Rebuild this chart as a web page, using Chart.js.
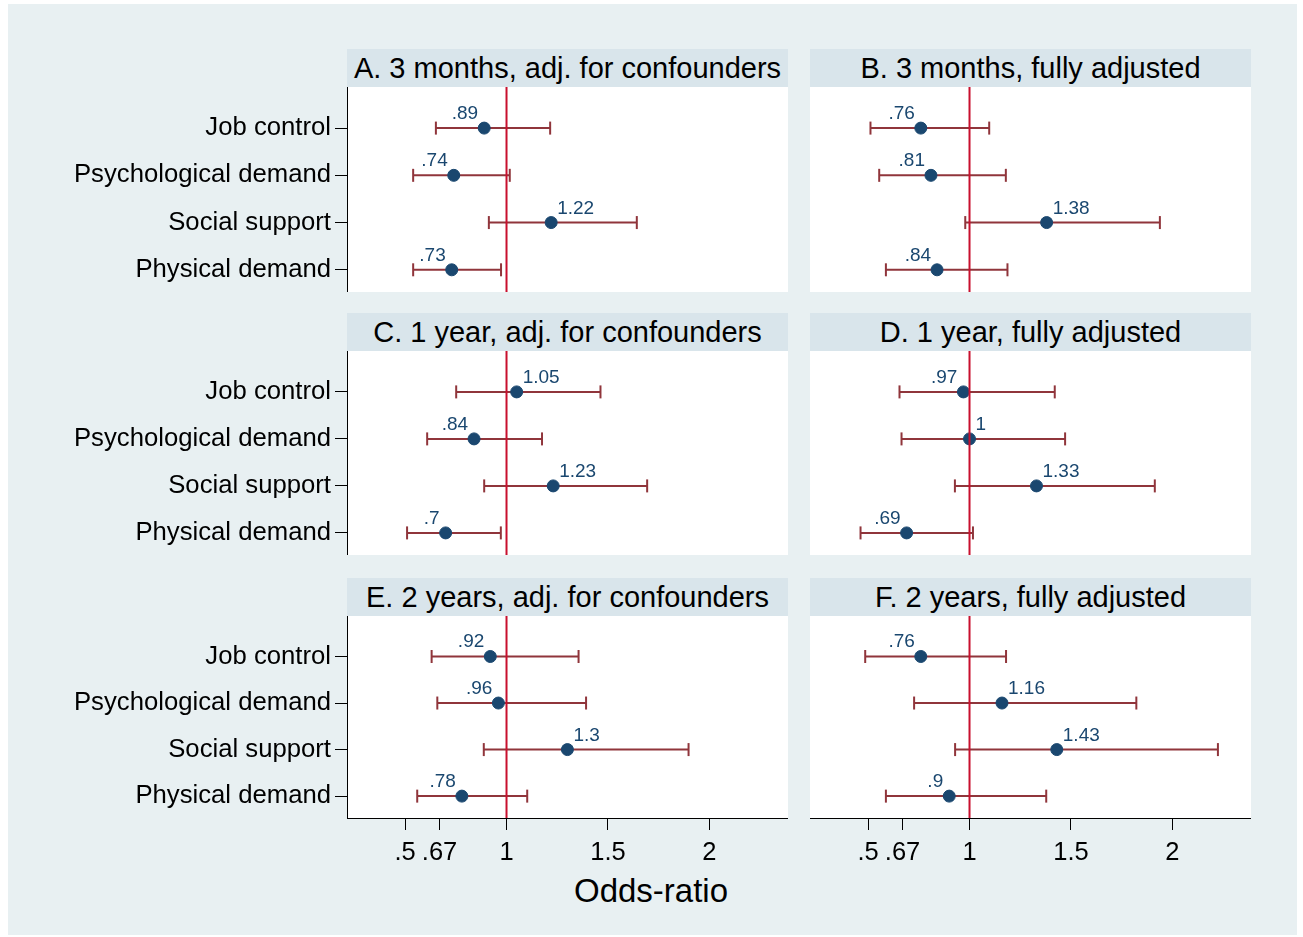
<!DOCTYPE html>
<html>
<head>
<meta charset="utf-8">
<script src="https://cdn.jsdelivr.net/npm/chart.js@4.4.0/dist/chart.umd.min.js"></script>
<style>
body{margin:0;background:#fff;width:1303px;height:937px;position:relative;overflow:hidden;font-family:"Liberation Sans",Arial,sans-serif;}
#bg{position:absolute;left:8px;top:4px;width:1289px;height:931px;background:#e8f0f2;}
.band{position:absolute;height:38px;line-height:38px;background:#d9e5eb;color:#000;font-size:29px;text-align:center;white-space:nowrap;}
.plot{position:absolute;}
#xtitle{position:absolute;left:451px;width:400px;top:874px;font-size:33px;line-height:33px;text-align:center;color:#000;}
</style>
</head>
<body>
<div id="bg"></div>
<div id="xtitle">Odds-ratio</div>
<script>
// categories (top to bottom)
const factors = ['Job control', 'Psychological demand', 'Social support', 'Physical demand'];

const panelTitles = [
  'A. 3 months, adj. for confounders', 'B. 3 months, fully adjusted',
  'C. 1 year, adj. for confounders', 'D. 1 year, fully adjusted',
  'E. 2 years, adj. for confounders', 'F. 2 years, fully adjusted'
];

// odds ratios and 95% CI
const orA = [0.89, 0.74, 1.22, 0.73];
const loA = [0.652, 0.54, 0.913, 0.54];
const hiA = [1.215, 1.016, 1.642, 0.973];

const orB = [0.76, 0.81, 1.38, 0.84];
const loB = [0.512, 0.555, 0.979, 0.588];
const hiB = [1.097, 1.179, 1.938, 1.187];

const orC = [1.05, 0.84, 1.23, 0.7];
const loC = [0.752, 0.609, 0.89, 0.51];
const hiC = [1.463, 1.175, 1.693, 0.972];

const orD = [0.97, 1, 1.33, 0.69];
const loD = [0.655, 0.665, 0.928, 0.463];
const hiD = [1.42, 1.471, 1.913, 1.017];

const orE = [0.92, 0.96, 1.3, 0.78];
const loE = [0.631, 0.659, 0.888, 0.56];
const hiE = [1.355, 1.392, 1.897, 1.102];

const orF = [0.76, 1.16, 1.43, 0.9];
const loF = [0.486, 0.727, 0.929, 0.588];
const hiF = [1.18, 1.822, 2.224, 1.378];

const xTicks = [0.5, 0.67, 1, 1.5, 2];
const xTickLabels = ['.5', '.67', '1', '1.5', '2'];
const refValue = 1;

const X_MIN = 0.214, X_MAX = 2.387;
const Y_MIN = 0.13, Y_MAX = 4.47;

const FONT = '"Liberation Sans", Arial, sans-serif';
const NAVY = '#1a476f', MAROON = '#90353b', RED = '#c8102e';

const panels = [
  {or: orA, lo: loA, hi: hiA}, {or: orB, lo: loB, hi: hiB},
  {or: orC, lo: loC, hi: hiC}, {or: orD, lo: loD, hi: hiD},
  {or: orE, lo: loE, hi: hiE}, {or: orF, lo: loF, hi: hiF}
];

// page geometry (px)
const colX = [[347, 788], [810, 1251]];
const rowY = [[87, 292], [351, 555], [616, 818]];
const XAXIS_H = 60;

function fmt(v){ return String(v).replace(/^0\./, '.'); }

const valueLabels = {
  id: 'valueLabels',
  afterDatasetsDraw(chart){
    const p = chart.options.plugins.valueLabels;
    const ctx = chart.ctx, xs = chart.scales.x, ys = chart.scales.y;
    ctx.save();
    ctx.font = '19px ' + FONT;
    ctx.fillStyle = NAVY;
    ctx.textBaseline = 'alphabetic';
    p.values.forEach((v, i) => {
      const px = xs.getPixelForValue(v), py = ys.getPixelForValue(i + 1);
      if (v < 1){ ctx.textAlign = 'right'; ctx.fillText(fmt(v), px - 6, py - 9); }
      else { ctx.textAlign = 'left'; ctx.fillText(fmt(v), px + 6, py - 9); }
    });
    ctx.restore();
  }
};

panels.forEach((pd, k) => {
  const col = k % 2, row = Math.floor(k / 2);
  const [x0, x1] = colX[col], [y0, y1] = rowY[row];
  const bottom = row === 2;

  const band = document.createElement('div');
  band.className = 'band';
  band.style.left = x0 + 'px';
  band.style.width = (x1 - x0) + 'px';
  band.style.top = (y0 - 38) + 'px';
  band.textContent = panelTitles[k];
  document.body.appendChild(band);

  const cLeft = col === 0 ? 0 : x0;
  const cw = x1 - cLeft, ch = (y1 - y0) + (bottom ? XAXIS_H : 0);
  const wrap = document.createElement('div');
  wrap.className = 'plot';
  wrap.style.left = cLeft + 'px';
  wrap.style.top = y0 + 'px';
  wrap.style.width = cw + 'px';
  wrap.style.height = ch + 'px';
  // white plot region
  const white = document.createElement('div');
  white.style.cssText = 'position:absolute;background:#fff;left:' + (x0 - cLeft) + 'px;top:0;width:' + (x1 - x0) + 'px;height:' + (y1 - y0) + 'px;';
  wrap.appendChild(white);
  const cv = document.createElement('canvas');
  cv.width = cw; cv.height = ch;
  cv.style.cssText = 'position:absolute;left:0;top:0;';
  wrap.appendChild(cv);
  document.body.appendChild(wrap);

  const datasets = [];
  datasets.push({
    type: 'line',
    data: [{x: refValue, y: Y_MIN}, {x: refValue, y: Y_MAX}],
    borderColor: RED, borderWidth: 2, pointRadius: 0
  });
  datasets.push({
    type: 'scatter',
    data: pd.or.map((v, i) => ({x: v, y: i + 1})),
    pointRadius: 6, pointBorderWidth: 1,
    backgroundColor: NAVY, borderColor: NAVY
  });
  pd.lo.forEach((lo, i) => {
    datasets.push({
      type: 'line',
      data: [{x: lo, y: i + 1}, {x: pd.hi[i], y: i + 1}],
      borderColor: MAROON, borderWidth: 2,
      pointStyle: 'line', pointRotation: 90, pointRadius: 6.5,
      pointBorderWidth: 2, pointBorderColor: MAROON
    });
  });

  new Chart(cv, {
    data: {datasets},
    options: {
      responsive: false, animation: false, devicePixelRatio: 1, events: [],
      layout: {padding: 0, autoPadding: false},
      plugins: {legend: {display: false}, tooltip: {enabled: false}, valueLabels: {values: pd.or}},
      scales: {
        x: {
          type: 'linear', min: X_MIN, max: X_MAX, display: bottom,
          afterBuildTicks: s => { s.ticks = xTicks.map(v => ({value: v})); },
          afterFit: s => { s.height = bottom ? XAXIS_H : 0; s.paddingLeft = 0; s.paddingRight = 0; },
          ticks: {autoSkip: false, maxRotation: 0, minRotation: 0, padding: 8, color: '#000',
            font: {family: FONT, size: 25.5},
            callback: (v, i) => xTickLabels[i]},
          grid: {drawOnChartArea: false, drawTicks: true, tickLength: 12, color: '#000', lineWidth: 1},
          border: {display: true, color: '#000', width: 1}
        },
        y: {
          type: 'linear', reverse: true, min: Y_MIN, max: Y_MAX, display: col === 0,
          afterBuildTicks: s => { s.ticks = factors.map((f, i) => ({value: i + 1})); },
          afterFit: s => { s.width = col === 0 ? x0 - cLeft : 0; s.paddingTop = 0; s.paddingBottom = 0; },
          ticks: {autoSkip: false, padding: 4, color: '#000',
            font: {family: FONT, size: 25.7},
            callback: (v, i) => factors[i]},
          grid: {drawOnChartArea: false, drawTicks: true, tickLength: 12, color: '#000', lineWidth: 1},
          border: {display: true, color: '#000', width: 1}
        }
      }
    },
    plugins: [valueLabels]
  });
});
</script>
</body>
</html>
